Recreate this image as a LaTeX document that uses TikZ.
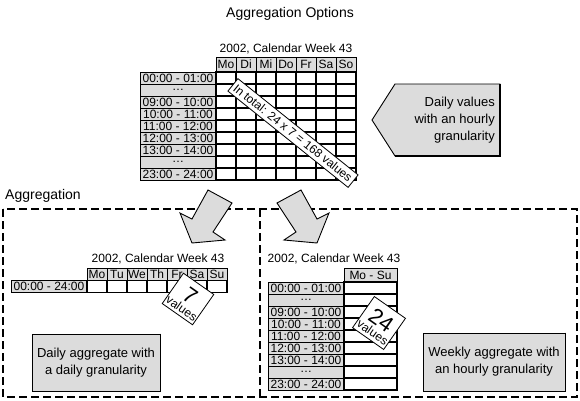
\documentclass[tikz,border=0pt]{standalone}
\usepackage{fontspec}
\setmainfont{Liberation Sans}
\definecolor{cellgray}{RGB}{220,220,220}
\tikzset{
  fs/.style={font=\fontsize{#1}{#1}\selectfont},
  lab/.style={draw=black, line width=0.8pt, fill=cellgray, inner sep=0pt, fs=12},
  hdr/.style={draw=black, line width=0.8pt, fill=cellgray, inner sep=0pt, fs=12},
  gridline/.style={draw=black, line width=1.8pt, line cap=rect},
  plain/.style={inner sep=0pt, fs=12},
  aggbox/.style={draw=black, line width=0.9pt, fill=cellgray, inner sep=0pt, align=center, font=\fontsize{13}{17}\selectfont},
  blockarrow/.style={draw=black, line width=0.9pt, fill=cellgray, line join=miter},
  dashbox/.style={draw=black, line width=1.3pt, dash pattern=on 8pt off 4pt},
  tag/.style={draw=black, fill=white, line width=0.8pt, inner sep=0pt},
}
\begin{document}
\begin{tikzpicture}[x=1pt,y=-1pt]
\useasboundingbox (0,0) rectangle (580,400);

% title
\node[fs=14, inner sep=0pt] (title) at (290,14) {Aggregation Options};

% ---------- top table ----------
\node[plain] (ttitle) at (286,49) {2002, Calendar Week 43};
\foreach \d [count=\i from 0] in {Mo,Di,Mi,Do,Fr,Sa,So}
  \node[hdr, minimum width=20pt, minimum height=15pt] (th\i) at (226+20*\i,64.5) {\d};
\foreach \t [count=\j from 0] in {00:00 - 01:00,\ldots,09:00 - 10:00,10:00 - 11:00,11:00 - 12:00,12:00 - 13:00,13:00 - 14:00,\ldots,23:00 - 24:00}
  \node[lab, minimum width=76pt, minimum height=12pt] (tl\j) at (178,78+12*\j) {\t};
\foreach \i in {0,...,7}
  \draw[gridline] (216+20*\i,72) -- (216+20*\i,180);
\foreach \j in {0,...,9}
  \draw[gridline] (216,72+12*\j) -- (356,72+12*\j);

\node[tag, minimum width=154pt, minimum height=16pt, rotate=-38.7, fs=12] (total) at (293,133) {In total: 24 x 7 = 168 values};

% pentagon note
\draw[blockarrow] (395,84) -- (500,84) -- (500,156) -- (395,156) -- (372,120) -- cycle;
\draw[line width=1.8pt] (500,84) -- (500,156) -- (395,156);
\node[anchor=east, align=right, inner sep=0pt, font=\fontsize{13}{17}\selectfont] (note) at (495,120) {Daily values\\with an hourly\\granularity};

% ---------- aggregation frame ----------
\node[anchor=west, fs=14, inner sep=0pt] (agg) at (5,196) {Aggregation};
\draw[dashbox] (3,209) rectangle (577,397);
\draw[dashbox] (260,209) -- (260,397);

% block arrows
\draw[blockarrow] (208,190) -- (232,203) -- (213,232) -- (225,240) -- (192,243) -- (180,213) -- (192,219) -- cycle;
\draw[blockarrow] (301,190) -- (277,203) -- (296,232) -- (284,240) -- (317,243) -- (329,213) -- (317,219) -- cycle;

% ---------- left bottom table ----------
\node[plain] (ltitle) at (158,259) {2002, Calendar Week 43};
\foreach \d [count=\i from 0] in {Mo,Tu,We,Th,Fr,Sa,Su}
  \node[hdr, minimum width=20pt, minimum height=12pt] (lh\i) at (97+20*\i,274) {\d};
\node[lab, minimum width=76pt, minimum height=12pt] (ll0) at (49,286.5) {00:00 - 24:00};
\foreach \i in {0,...,7}
  \draw[gridline] (87+20*\i,280.5) -- (87+20*\i,292.5);
\draw[gridline] (87,280.5) -- (227,280.5);
\draw[gridline] (87,292.5) -- (227,292.5);

\begin{scope}[shift={(188,299)}, rotate=-35, transform shape]
  \node[tag, minimum size=37pt] (d7) at (0,0) {};
  \node[inner sep=0pt, fs=22] (d7n) at (0,-4) {7};
  \node[inner sep=0pt, fs=12] (d7v) at (0,11) {values};
\end{scope}

\node[aggbox, minimum width=128pt, minimum height=57pt] (daily) at (96,362.5) {Daily aggregate with\\a daily granularity};
\draw[line width=1.8pt] (daily.north east) -- (daily.south east) -- (daily.south west);

% ---------- right bottom table ----------
\node[plain] (rtitle) at (334,259) {2002, Calendar Week 43};
\node[hdr, minimum width=53pt, minimum height=14pt] (rh) at (370.5,275) {Mo - Su};
\foreach \t [count=\j from 0] in {00:00 - 01:00,\ldots,09:00 - 10:00,10:00 - 11:00,11:00 - 12:00,12:00 - 13:00,13:00 - 14:00,\ldots,23:00 - 24:00}
  \node[lab, minimum width=76pt, minimum height=12pt] (rl\j) at (306,288+12*\j) {\t};
\draw[gridline] (344,282) -- (344,390);
\draw[gridline] (397,282) -- (397,390);
\foreach \j in {0,...,9}
  \draw[gridline] (344,282+12*\j) -- (397,282+12*\j);

\begin{scope}[shift={(379,323)}, rotate=-35, transform shape]
  \node[tag, minimum size=38pt] (d24) at (0,0) {};
  \node[inner sep=0pt, fs=22] (d24n) at (0,-4) {24};
  \node[inner sep=0pt, fs=12] (d24v) at (0,11) {values};
\end{scope}

\node[aggbox, minimum width=142pt, minimum height=58pt] (weekly) at (494,362) {Weekly aggregate with\\an hourly granularity};
\draw[line width=1.8pt] (weekly.north east) -- (weekly.south east) -- (weekly.south west);
\end{tikzpicture}
\end{document}
